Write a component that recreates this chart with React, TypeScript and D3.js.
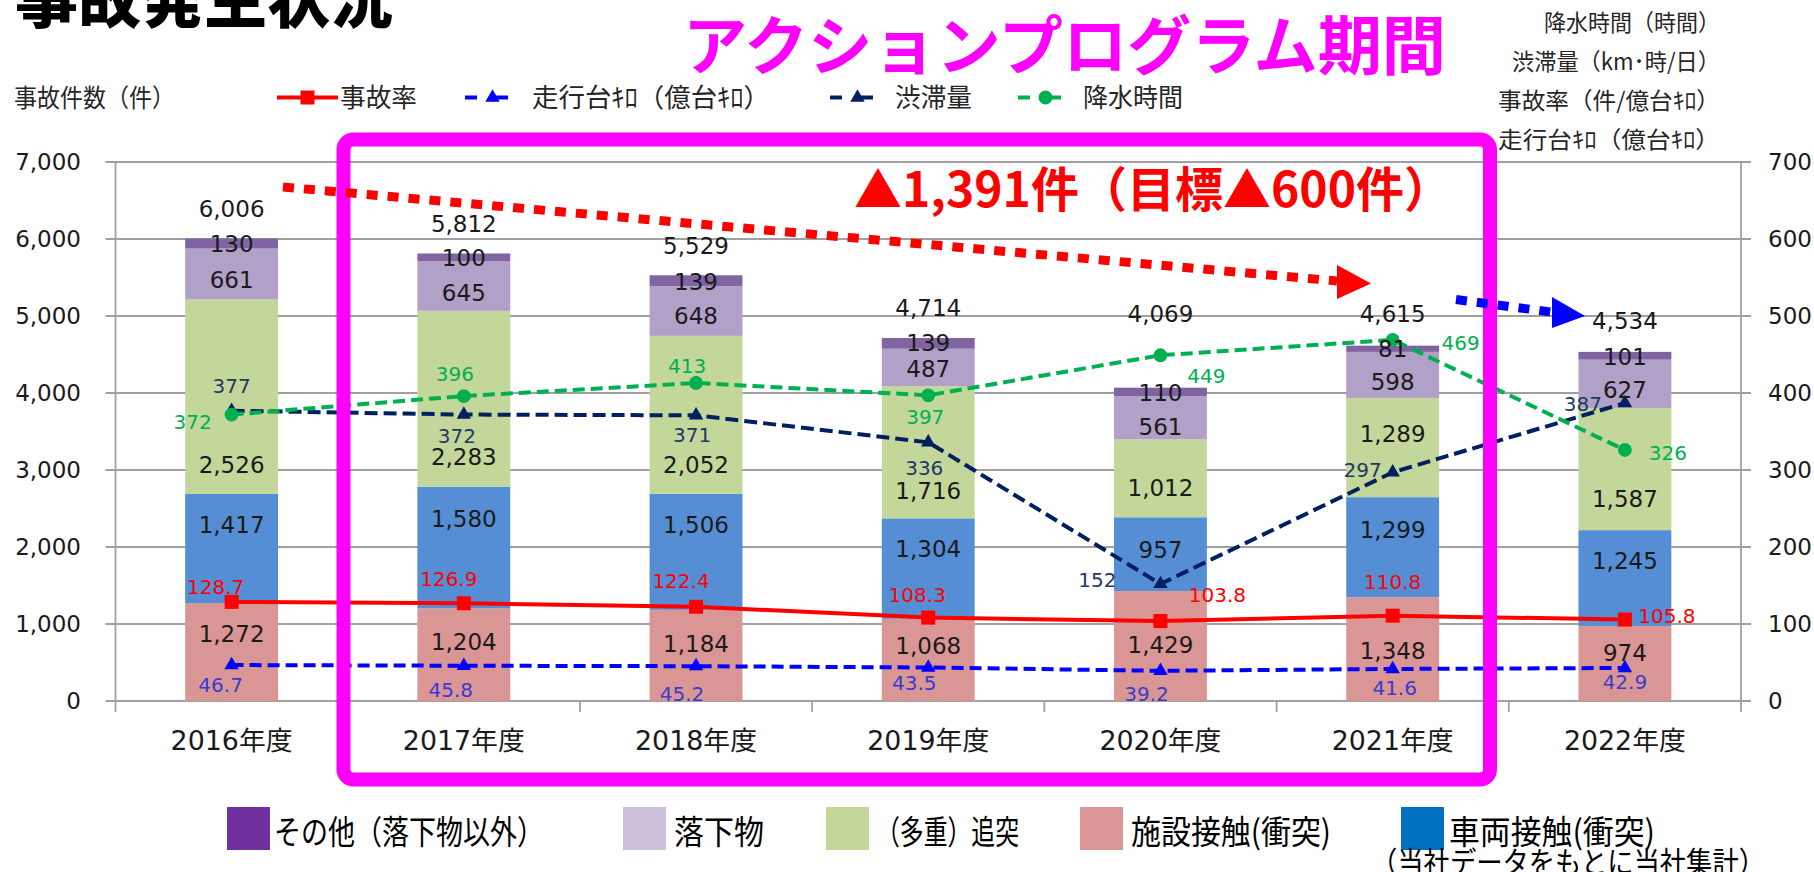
import React from "react";
import * as d3 from "d3";

// 年度
const years = ["2016年度", "2017年度", "2018年度", "2019年度", "2020年度", "2021年度", "2022年度"];

// 事故件数（件）: stacked from the bottom
const facility = [1272, 1204, 1184, 1068, 1429, 1348, 974]; // 施設接触(衝突)
const vehicle = [1417, 1580, 1506, 1304, 957, 1299, 1245]; // 車両接触(衝突)
const rearEnd = [2526, 2283, 2052, 1716, 1012, 1289, 1587]; // (多重)追突
const fallen = [661, 645, 648, 487, 561, 598, 627]; // 落下物
const others = [130, 100, 139, 139, 110, 81, 101]; // その他(落下物以外)

// right axis series
const accidentRate = [128.7, 126.9, 122.4, 108.3, 103.8, 110.8, 105.8]; // 事故率
const travelKm = [46.7, 45.8, 45.2, 43.5, 39.2, 41.6, 42.9]; // 走行台ｷﾛ
const congestion = [377, 372, 371, 336, 152, 297, 387]; // 渋滞量
const rainHours = [372, 396, 413, 397, 449, 469, 326]; // 降水時間

const leftTicks = [0, 1000, 2000, 3000, 4000, 5000, 6000, 7000];
const rightTicks = [0, 100, 200, 300, 400, 500, 600, 700];

// label nudges (px), as placed in the original
const stackLabelDy = {
  facility: [-18, -13, -12, -14, -1, 1, -11],
  vehicle: [-24, -29, -27, -20, -5, -18, -17],
  rearEnd: [68, 58, 50, 38, 9, -14, 30],
  fallen: [6, 7, 5, 1, 9, 7, 6],
  others: [0, 0, 1, -1, 1, 0, 1],
};
const totalLabelDy = [30, 30, 30, 30, 74, 32, 31];
const rateDx = [-16, -15, -15, -11, 57, 0, 42];
const rateDy = [-15, -25, -26, -23, -26, -34, -4];
const travelDx = [-11, -13, -14, -14, -14, 2, 0];
const travelDy = [20, 24, 28, 15, 23, 19, 14];
const congDx = [0, -7, -4, -4, -63, -30, -42];
const congDy = [-25, 21, 19, 25, -4, -3, 1];
const rainDx = [-39, -9, -9, -3, 46, 68, 43];
const rainDy = [7, -22, -17, 21, 20, 3, 3];

const JP = "'Noto Sans CJK JP', sans-serif";
const NUM = "'DejaVu Sans', 'Noto Sans CJK JP', sans-serif";

const W = 1814;
const H = 872;
const left = 115.5;
const right = 1741;
const top = 162;
const bottom = 701;

const keys = ["facility", "vehicle", "rearEnd", "fallen", "others"];
const barColors: Record<string, string> = {
  facility: "#DA9694",
  vehicle: "#558ED5",
  rearEnd: "#C4D79B",
  fallen: "#B1A0C7",
  others: "#8064A2",
};

const tri = d3.symbol(d3.symbolTriangle, 90)()!;
const sq = d3.symbol(d3.symbolSquare, 196)()!;
const circ = d3.symbol(d3.symbolCircle, 150)()!;

export default function App() {
  const x = d3.scaleBand<string>().domain(years).range([left, right]).paddingInner(0.6).paddingOuter(0.3);
  const yL = d3.scaleLinear().domain([0, 7000]).range([bottom, top]);
  const yR = d3.scaleLinear().domain([0, 700]).range([bottom, top]);
  const cx = (i: number) => (x(years[i]) as number) + x.bandwidth() / 2;

  const rows = years.map((y, i) => ({
    year: y,
    facility: facility[i],
    vehicle: vehicle[i],
    rearEnd: rearEnd[i],
    fallen: fallen[i],
    others: others[i],
  }));
  const stacked = d3.stack<any>().keys(keys)(rows);
  const totals = rows.map((r) => keys.reduce((a, k) => a + (r as any)[k], 0));

  const lineSeries = [
    { values: travelKm, color: "#0000FF", label: "#3A3AD0", dash: "12 6", marker: tri, dx: travelDx, dy: travelDy, fmt: (v: number) => v.toFixed(1) },
    { values: congestion, color: "#002060", label: "#1F3864", dash: "13 6", marker: tri, dx: congDx, dy: congDy, fmt: (v: number) => String(v) },
    { values: rainHours, color: "#00B050", label: "#00B050", dash: "12 6", marker: circ, dx: rainDx, dy: rainDy, fmt: (v: number) => String(v) },
    { values: accidentRate, color: "#FF0000", label: "#FF0000", dash: null, marker: sq, dx: rateDx, dy: rateDy, fmt: (v: number) => v.toFixed(1) },
  ];

  const line = d3
    .line<number>()
    .x((_, i) => cx(i))
    .y((v) => yR(v));

  const step = x.step();
  const boundaries = d3.range(years.length + 1).map((k) => left + k * step);

  const topLegend = [
    { text: "事故率", color: "#FF0000", dash: null, marker: sq, x0: 277, x1: 338, tx: 340, tw: 77 },
    { text: "走行台ｷﾛ（億台ｷﾛ）", color: "#0000FF", dash: "12 19", marker: tri, x0: 465, x1: 520, tx: 532, tw: 238 },
    { text: "渋滞量", color: "#002060", dash: "12 19", marker: tri, x0: 830, x1: 885, tx: 895, tw: 77 },
    { text: "降水時間", color: "#00B050", dash: "12 19", marker: circ, x0: 1018, x1: 1073, tx: 1083, tw: 100 },
  ];

  const rightTitles = [
    { text: "降水時間（時間）", y: 31, w: 176 },
    { text: "渋滞量（km･時/日）", y: 70, w: 208 },
    { text: "事故率（件/億台ｷﾛ）", y: 109, w: 222 },
    { text: "走行台ｷﾛ（億台ｷﾛ）", y: 148, w: 222 },
  ];

  const bottomLegend = [
    { text: "その他（落下物以外）", color: "#7030A0", sx: 227, tx: 274, tw: 270 },
    { text: "落下物", color: "#CCC0DA", sx: 623, tx: 674, tw: 90 },
    { text: "（多重）追突", color: "#C4D79B", sx: 826, tx: 876, tw: 143 },
    { text: "施設接触(衝突)", color: "#DA9694", sx: 1080, tx: 1131, tw: 200 },
    { text: "車両接触(衝突)", color: "#0070C0", sx: 1401, tx: 1449, tw: 206 },
  ];

  const grid = "#A0A0A0";

  return (
    <svg
      width={W}
      height={H}
      viewBox={`0 0 ${W} ${H}`}
      style={{ position: "absolute", left: 0, top: 0, background: "#fff" }}
    >
      <rect width={W} height={H} fill="#fff" />

      {/* gridlines + axes */}
      {leftTicks.map((t) => (
        <line key={t} x1={left - 10} x2={right + 10} y1={yL(t)} y2={yL(t)} stroke={grid} strokeWidth={1.8} />
      ))}
      <line x1={left} x2={left} y1={top} y2={bottom} stroke={grid} strokeWidth={1.8} />
      <line x1={right} x2={right} y1={top} y2={bottom} stroke={grid} strokeWidth={1.8} />
      {boundaries.map((b, i) => (
        <line key={i} x1={b} x2={b} y1={bottom} y2={bottom + 11} stroke={grid} strokeWidth={1.8} />
      ))}

      {leftTicks.map((t) => (
        <text key={t} x={81} y={yL(t) + 8.4} textAnchor="end" fontFamily={NUM} fontSize={23} fill="#1a1a1a">
          {d3.format(",")(t)}
        </text>
      ))}
      {rightTicks.map((t) => (
        <text key={t} x={1768} y={yR(t) + 8.4} fontFamily={NUM} fontSize={23} fill="#1a1a1a">
          {t}
        </text>
      ))}
      {years.map((y, i) => (
        <text key={y} x={cx(i)} y={750} textAnchor="middle" fontFamily={NUM} fontSize={26} fill="#1a1a1a" textLength={122} lengthAdjust="spacingAndGlyphs">
          {y}
        </text>
      ))}

      {/* stacked bars */}
      {stacked.map((s) => (
        <g key={s.key} fill={barColors[s.key]}>
          {s.map((d, i) => (
            <rect key={i} x={x(years[i])} width={x.bandwidth()} y={yL(d[1])} height={yL(d[0]) - yL(d[1])} />
          ))}
        </g>
      ))}

      {/* lines */}
      {lineSeries.map((s, si) => (
        <g key={si}>
          <path d={line(s.values) || ""} fill="none" stroke={s.color} strokeWidth={4} strokeDasharray={s.dash || undefined} />
          {s.values.map((v, i) => (
            <path key={i} d={s.marker} transform={`translate(${cx(i)},${yR(v)})`} fill={s.color} />
          ))}
        </g>
      ))}

      {/* stack labels */}
      {stacked.map((s) =>
        s.map((d, i) => (
          <text
            key={s.key + i}
            x={cx(i)}
            y={(yL(d[0]) + yL(d[1])) / 2 + (stackLabelDy as any)[s.key][i] + 8.4}
            textAnchor="middle"
            fontFamily={NUM}
            fontSize={23}
            fill="#1a1a1a"
          >
            {d3.format(",")(d[1] - d[0])}
          </text>
        ))
      )}
      {totals.map((t, i) => (
        <text key={i} x={cx(i)} y={yL(t) - totalLabelDy[i] + 8.4} textAnchor="middle" fontFamily={NUM} fontSize={23} fill="#1a1a1a">
          {d3.format(",")(t)}
        </text>
      ))}

      {/* line labels */}
      {lineSeries.map((s, si) =>
        s.values.map((v, i) => (
          <text
            key={si + "-" + i}
            x={cx(i) + s.dx[i]}
            y={yR(v) + s.dy[i] + 7.3}
            textAnchor="middle"
            fontFamily={NUM}
            fontSize={20}
            fill={s.label}
          >
            {s.fmt(v)}
          </text>
        ))
      )}

      {/* headings */}
      <text x={15} y={22} fontFamily={JP} fontWeight={900} fontSize={63} fill="#000" textLength={378} lengthAdjust="spacingAndGlyphs">
        事故発生状況
      </text>
      <text x={683} y={69} fontFamily={JP} fontWeight={700} fontSize={64} fill="#FF00FF" textLength={763} lengthAdjust="spacingAndGlyphs">
        アクションプログラム期間
      </text>
      <text x={14} y={107} fontFamily={JP} fontSize={25} fill="#262626" textLength={161} lengthAdjust="spacingAndGlyphs">
        事故件数（件）
      </text>
      {rightTitles.map((t) => (
        <text key={t.text} x={1720 - t.w} y={t.y} fontFamily={JP} fontSize={23} fill="#262626" textLength={t.w} lengthAdjust="spacingAndGlyphs">
          {t.text}
        </text>
      ))}

      {/* top legend */}
      {topLegend.map((l) => (
        <g key={l.text}>
          <line x1={l.x0} x2={l.x1} y1={97.5} y2={97.5} stroke={l.color} strokeWidth={4} strokeDasharray={l.dash || undefined} />
          <path d={l.marker} transform={`translate(${(l.x0 + l.x1) / 2},97.5)`} fill={l.color} />
          <text x={l.tx} y={107} fontFamily={JP} fontSize={26} fill="#262626" textLength={l.tw} lengthAdjust="spacingAndGlyphs">
            {l.text}
          </text>
        </g>
      ))}

      {/* action program frame */}
      <rect x={343.5} y={139.5} width={1146.5} height={640} rx={10} fill="none" stroke="#FF00FF" strokeWidth={14} />

      {/* trend arrows */}
      <line x1={283} y1={187} x2={1337} y2={281} stroke="#FF0000" strokeWidth={9} strokeDasharray="11 10" />
      <path d="M1337,265 L1371,283.5 L1337,299 Z" fill="#FF0000" />
      <line x1={1456} y1={299.5} x2={1551} y2={312} stroke="#0000FF" strokeWidth={9} strokeDasharray="11 10" />
      <path d="M1552,297 L1585,316 L1552,328 Z" fill="#0000FF" />

      <text x={854} y={207} fontFamily={JP} fontWeight={700} fontSize={48} fill="#FF0000" textLength={598} lengthAdjust="spacingAndGlyphs">
        ▲1,391件（目標▲600件）
      </text>

      {/* bottom legend */}
      {bottomLegend.map((l) => (
        <g key={l.text}>
          <rect x={l.sx} y={807} width={43} height={43} fill={l.color} />
          <text x={l.tx} y={844} fontFamily={JP} fontSize={33} fill="#000" textLength={l.tw} lengthAdjust="spacingAndGlyphs">
            {l.text}
          </text>
        </g>
      ))}
      <text x={1371} y={873} fontFamily={JP} fontSize={30} fill="#000" textLength={394} lengthAdjust="spacingAndGlyphs">
        （当社データをもとに当社集計）
      </text>
    </svg>
  );
}
